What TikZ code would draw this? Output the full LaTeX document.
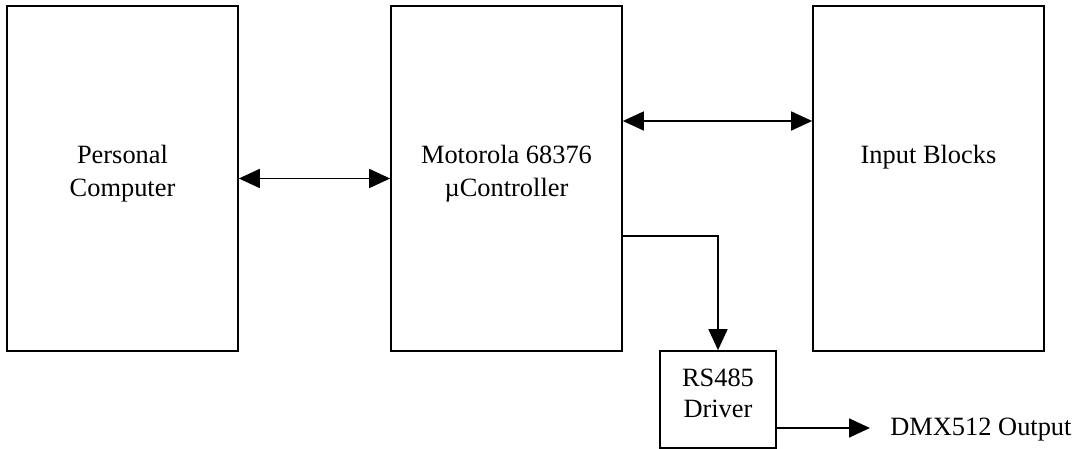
\documentclass[tikz,border=0pt]{standalone}
\usepackage{fontspec}
\setmainfont{Liberation Serif}
\usetikzlibrary{arrows.meta}
\begin{document}
\begin{tikzpicture}[x=0.5pt,y=-0.5pt,
  box/.style={draw, line width=0.85pt, inner sep=0pt, minimum width=115.5pt, minimum height=172.5pt},
  smallbox/.style={draw, line width=0.85pt, inner sep=0pt, minimum width=58pt, minimum height=48.5pt},
  txt/.style={inner sep=0pt, align=center, font=\fontsize{13.2}{16.5}\selectfont},
  conn/.style={line width=0.85pt},
  tip/.style={-{Triangle[length=10.5pt,width=9.5pt]}},
  dtip/.style={{Triangle[length=10.5pt,width=9.5pt]}-{Triangle[length=10.5pt,width=9.5pt]}}
]
\useasboundingbox (0,0) rectangle (1078,449);
% boxes
\node[box] (pc) at (122.5,178.5) {};
\node[box] (mc) at (506.5,178.5) {};
\node[box] (ib) at (928.5,178.5) {};
\node[smallbox] (rs) at (718,399.5) {};
% texts
\node[txt, anchor=north] (pct) at (122.5,145) {Personal\\Computer};
\node[txt, anchor=north] (mct) at (506.5,145) {Motorola 68376\\µController};
\node[txt, anchor=north] (ibt) at (928.5,145) {Input Blocks};
\node[txt, anchor=north, font=\fontsize{13.2}{15.5}\selectfont] (rst) at (718,369) {RS485\\Driver};
\node[txt, anchor=base west] (dmx) at (890,436) {DMX512 Output};
% helper coordinates
\coordinate (ybus) at (0,121);
\coordinate (yout) at (0,236);
\coordinate (ydmx) at (0,428);
\coordinate (dmxend) at (870,428);
% connectors
\draw[conn, dtip] (pc.east) -- (mc.west);
\draw[conn, dtip] (mc.east |- ybus) -- (ib.west |- ybus);
\draw[conn, tip] (mc.east |- yout) -| (rs.north);
\draw[conn, tip] (rs.east |- ydmx) -- (dmxend);
\end{tikzpicture}
\end{document}
